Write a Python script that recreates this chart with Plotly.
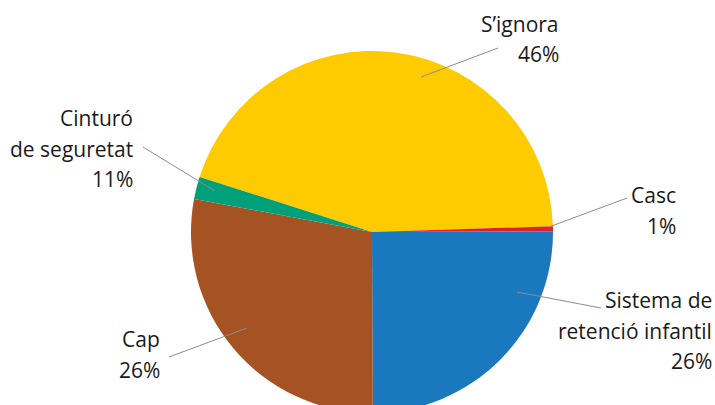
import plotly.graph_objects as go

W, H = 715, 413  # pie runs past the bottom edge of the 405px window, as in the source

# slices clockwise from the start of the yellow slice
labels = ["S\u2019ignora", "Casc", "Sistema de retenció infantil", "Cap", "Cinturó de seguretat"]
shares = [44.6, 0.45, 25.0, 28.0, 2.0]
pct_text = ["46%", "1%", "26%", "26%", "11%"]
label_lines = [["S\u2019ignora"], ["Casc"], ["Sistema de", "retenció infantil"], ["Cap"], ["Cinturó", "de seguretat"]]
colors = ["#FDCB00", "#E3202A", "#1A78BE", "#A65324", "#00A07A"]

# label placement (pixels): right edge of text, first line y, leader line ends
label_pos = [
    dict(xr=561, y0=24, line=((421, 77), (498, 48))),
    dict(xr=678, y0=195, line=((549, 227), (627, 198))),
    dict(xr=714, y0=300, line=((517, 292), (601, 308))),
    dict(xr=162, y0=339, line=((247, 328), (169, 357))),
    dict(xr=135, y0=118, line=((215, 191), (143, 147))),
]
LINE_GAP = 30.5


def px(x, y):
    return x / W, 1 - y / H


fig = go.Figure(go.Pie(
    labels=labels,
    values=shares,
    sort=False,
    direction="clockwise",
    rotation=-72.3,
    marker=dict(colors=colors, line=dict(width=0)),
    textinfo="none",
    hoverinfo="label+percent",
    domain=dict(x=[191 / W, 553 / W], y=[0, 1 - 51 / H]),
    showlegend=False,
))

font = dict(family="Open Sans, Noto Sans, sans-serif", size=21, color="#1a1a1a")
for lines, pct, pos in zip(label_lines, pct_text, label_pos):
    for i, t in enumerate(lines + [pct]):
        x, y = px(pos["xr"], pos["y0"] + i * LINE_GAP)
        fig.add_annotation(x=x, y=y, xref="paper", yref="paper", text=t, showarrow=False,
                           xanchor="right", yanchor="middle", font=font)
    (x0, y0), (x1, y1) = pos["line"]
    a, b = px(x0, y0)
    c, d = px(x1, y1)
    fig.add_shape(type="line", xref="paper", yref="paper", x0=a, y0=b, x1=c, y1=d,
                  line=dict(color="#8c8c8c", width=1))

fig.update_layout(
    width=W, height=H,
    margin=dict(l=0, r=0, t=0, b=0),
    paper_bgcolor="white",
    plot_bgcolor="white",
)
fig.write_html(
    "out.html",
    config=dict(displayModeBar=False),
    post_script="document.body.style.margin='0';document.body.style.overflow='hidden';",
)
